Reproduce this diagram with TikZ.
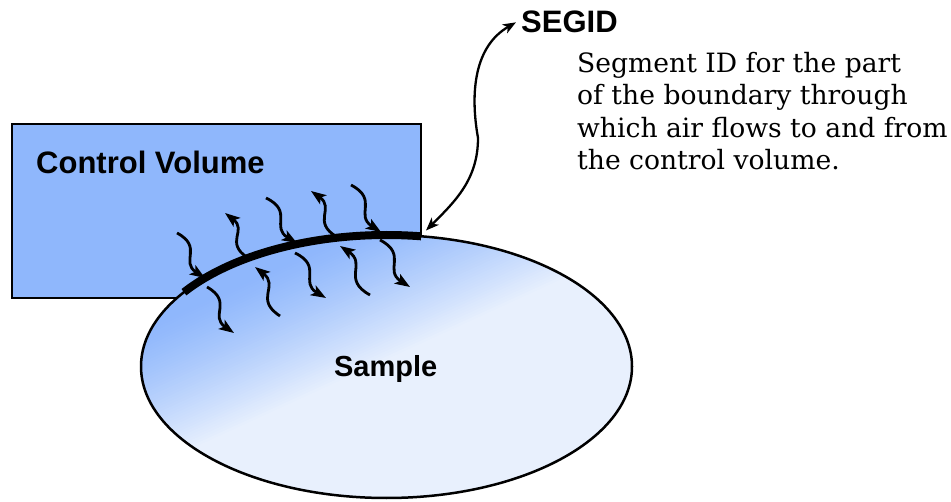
\documentclass[tikz,border=0pt]{standalone}
\usepackage{fontspec}
\setmainfont{DejaVu Serif}
\newfontfamily\labelfont{Liberation Sans}
\usetikzlibrary{arrows.meta}
\definecolor{cvblue}{RGB}{143,183,252}
\definecolor{samplelight}{RGB}{232,240,253}
\begin{document}
\begin{tikzpicture}[x=1pt,y=1pt,
  flow/.style={line width=2.8pt, -{Stealth[length=15pt,width=11pt,inset=3.5pt]}},
  wave/.style={out=30,in=205,relative,looseness=1.45},
  boldlabel/.style={font=\labelfont\bfseries\fontsize{31}{37}\selectfont, inner sep=0pt},
  desctext/.style={font=\fontsize{26.6}{32.3}\selectfont, align=left, inner sep=0pt},
]
\useasboundingbox (0,0) rectangle (951,501);
% control volume box
\node[draw, line width=2.8pt, fill=cvblue, minimum width=409pt, minimum height=174pt,
      inner sep=0pt, outer sep=0pt, anchor=south west] (cv) at (12,203) {};
\node[boldlabel, anchor=base west] (cvlabel) at (36,327) {Control Volume};
% sample ellipse with gradient
\coordinate (sc) at (386.5,134.5);
\begin{scope}
  \clip (sc) ellipse [x radius=245.5, y radius=131.5];
  \begin{scope}[shift={(150,171)}, rotate=-65.4]
    \fill[cvblue] (-700,-800) rectangle (700,800);
    \foreach \i in {0,...,50} {
      \pgfmathsetmacro\p{100*(\i/50)^1.25}
      \pgfmathsetmacro\s{-5+\i*2.6}
      \fill[samplelight!\p!cvblue] (\s,-800) rectangle (700,800);
    }
  \end{scope}
\end{scope}
\draw[line width=2.5pt] (sc) ellipse [x radius=245.5, y radius=131.5];
% boundary segment
\draw[line width=8pt] (sc) ++(81.9:245.5 and 131.5) coordinate (arcend)
  arc[start angle=81.9, end angle=145.6, x radius=245.5, y radius=131.5] coordinate (arcstart);
\node[font=\labelfont\bfseries\fontsize{29}{35}\selectfont, inner sep=0pt, anchor=base] (sample) at (385.7,124) {Sample};
% flow arrows
\draw[flow] (177,268) to[wave] (205,223);
\draw[flow] (207,214) to[wave] (234,168);
\draw[flow] (280,185) to[wave] (255,234);
\draw[flow] (248,243) to[wave] (225,288);
\draw[flow] (266,303) to[wave] (297,258);
\draw[flow] (295,248) to[wave] (326,203);
\draw[flow] (370,206) to[wave] (340,255);
\draw[flow] (337,264) to[wave] (311,310);
\draw[flow] (351,316) to[wave] (381,269);
\draw[flow] (380,261) to[wave] (410,214);
% SEGID label and connector
\node[boldlabel, anchor=base west] (segid) at (521,468) {SEGID};
\node[desctext, anchor=north west] (desc) at (577,449) {Segment ID for the part\\of the boundary through\\which air flows to and from\\the control volume.};
\coordinate (segstart) at (426,270.5);
\coordinate (segmid) at (478,363);
\draw[line width=2.3pt, {Stealth[length=13pt,width=10pt,inset=3.5pt]}-{Stealth[length=13pt,width=10pt,inset=3.5pt]}]
  (segstart) to[out=45,in=-90] (segmid) to[out=100,in=210] ([xshift=-5pt]segid.west);
\end{tikzpicture}
\end{document}
